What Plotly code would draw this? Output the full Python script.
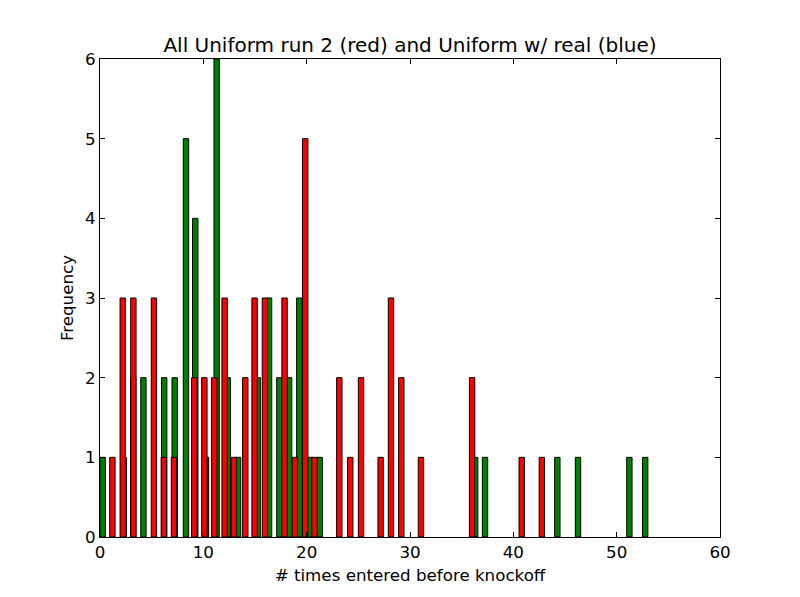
import plotly.graph_objects as go

# left edge of each bar (in x units) and its count
green_x = [0.0, 2.04, 2.95, 3.94, 5.95, 6.97, 8.06, 8.96, 10.0, 11.03, 12.1, 13.1,
           15.0, 16.1, 17.1, 18.04, 19.03, 20.05, 21.0, 36.05, 37.0, 44.0, 46.0,
           50.97, 52.5]
green_counts = [1, 1, 2, 2, 2, 2, 5, 4, 1, 6, 2, 1,
                2, 3, 2, 2, 3, 1, 1, 1, 1, 1, 1,
                1, 1]

red_x = [0.94, 1.94, 2.97, 4.96, 5.92, 6.9, 8.86, 9.84, 10.8, 11.8, 12.7, 13.8,
         14.7, 15.7, 17.6, 18.6, 19.6, 20.5, 22.9, 23.96, 25.0, 26.9, 27.9, 28.9,
         30.8, 35.75, 40.55, 42.5]
red_counts = [1, 3, 3, 3, 1, 1, 2, 2, 2, 3, 1, 2,
              3, 3, 3, 1, 5, 1, 2, 1, 2, 1, 3, 2,
              1, 2, 1, 1]

x_ticks = [0, 10, 20, 30, 40, 50, 60]
y_ticks = [0, 1, 2, 3, 4, 5, 6]

bar_w = 0.52

fig = go.Figure()
# green drawn first, red on top of it
fig.add_trace(go.Bar(x=green_x, y=green_counts, width=bar_w, offset=0,
                     marker=dict(color="#008000", line=dict(color="black", width=1))))
fig.add_trace(go.Bar(x=red_x, y=red_counts, width=bar_w, offset=0,
                     marker=dict(color="#ff0000", line=dict(color="black", width=1))))

axis_common = dict(showgrid=False, zeroline=False, showline=True, linecolor="black",
                   linewidth=1, mirror="allticks", ticks="inside", ticklen=5,
                   tickcolor="black", tickfont=dict(size=16.7, color="black"))

fig.update_layout(
    width=800, height=597,
    barmode="overlay",
    showlegend=False,
    paper_bgcolor="white", plot_bgcolor="white",
    font=dict(family="DejaVu Sans", color="black"),
    margin=dict(l=92, r=88, t=51, b=68),
    title=dict(text="All Uniform run 2 (red) and Uniform w/ real (blue)",
               x=0.5, xref="paper", xanchor="center",
               y=1, yref="paper", yanchor="bottom", pad=dict(b=7),
               font=dict(size=20, color="black")),
    xaxis=dict(range=[0, 60], tickvals=x_ticks, ticklabelstandoff=0,
               title=dict(text="# times entered before knockoff", font=dict(size=16.7), standoff=8),
               **axis_common),
    yaxis=dict(range=[0, 6], tickvals=y_ticks,
               title=dict(text="Frequency", font=dict(size=16.7), standoff=7),
               **axis_common),
)

fig.write_html("out.html")
